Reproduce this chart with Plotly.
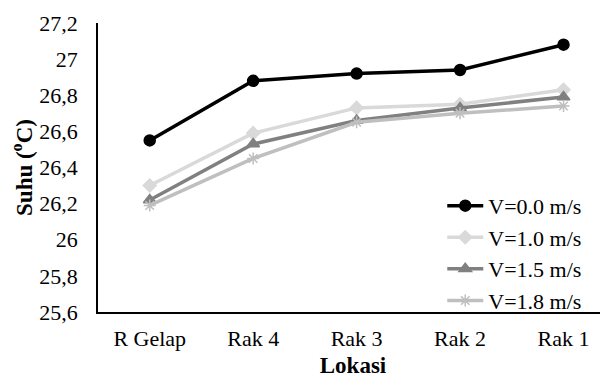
import plotly.graph_objects as go

lokasi = ["R Gelap", "Rak 4", "Rak 3", "Rak 2", "Rak 1"]
v00 = [26.55, 26.88, 26.92, 26.94, 27.08]
v10 = [26.30, 26.59, 26.73, 26.75, 26.83]
v15 = [26.22, 26.53, 26.66, 26.73, 26.79]
v18 = [26.19, 26.45, 26.65, 26.70, 26.74]
names = ["V=0.0 m/s", "V=1.0 m/s", "V=1.5 m/s", "V=1.8 m/s"]
yticks = [25.6, 25.8, 26.0, 26.2, 26.4, 26.6, 26.8, 27.0, 27.2]
ytext = ["25,6", "25,8", "26", "26,2", "26,4", "26,6", "26,8", "27", "27,2"]

FONT = "Liberation Serif, Times New Roman, serif"
styles = [
    dict(color="#000000", symbol="circle", size=11),
    dict(color="#d9d9d9", symbol="diamond", size=10),
    dict(color="#808080", symbol="triangle-up", size=11),
    dict(color="#bfbfbf", symbol="asterisk-open", size=10),
]

fig = go.Figure()
for name, vals, st in zip(names, [v00, v10, v15, v18], styles):
    fig.add_trace(go.Scatter(
        x=lokasi, y=vals, name=name, mode="lines+markers",
        line=dict(color=st["color"], width=3.5),
        marker=dict(symbol=st["symbol"], size=st["size"], color=st["color"],
                    line=dict(color=st["color"], width=1.5)),
    ))

fig.update_layout(
    width=600, height=371,
    margin=dict(l=90, r=0, t=15, b=67),
    paper_bgcolor="white", plot_bgcolor="white",
    font=dict(family=FONT, size=22, color="#000000"),
    showlegend=True,
    legend=dict(x=0.675, y=0.44, xanchor="left", yanchor="top",
                bgcolor="rgba(0,0,0,0)", font=dict(size=22),
                tracegroupgap=0, itemwidth=36),
    xaxis=dict(
        range=[-0.5, 4.43], showgrid=False, showline=True,
        linecolor="#000000", linewidth=1.5, ticks="", zeroline=False,
        ticklabelstandoff=6,
        title=dict(text="<b>Lokasi</b>", font=dict(size=23), standoff=7),
        tickfont=dict(size=22),
    ),
    yaxis=dict(
        range=[25.6, 27.2], showgrid=False, showline=True,
        linecolor="#000000", linewidth=1.5, ticks="", zeroline=False,
        tickvals=yticks, ticktext=ytext, tickfont=dict(size=22),
        ticklabelstandoff=14,
        title=dict(text="<b>Suhu (<sup>o</sup>C)</b>", font=dict(size=23), standoff=8),
    ),
)

fig.write_html("out.html")
